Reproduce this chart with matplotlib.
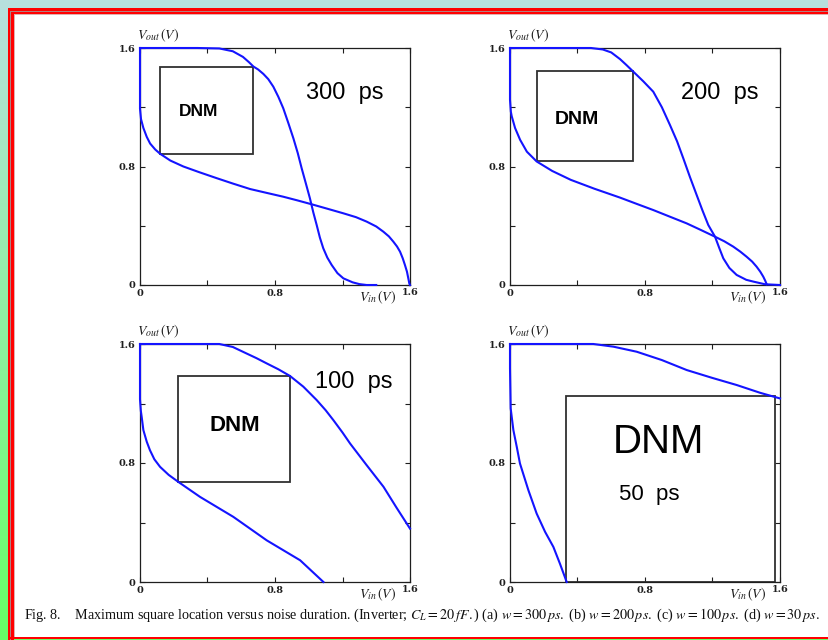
import numpy as np
import matplotlib
matplotlib.use("Agg")
import matplotlib.pyplot as plt
from matplotlib.patches import Rectangle

plt.rcParams['mathtext.fontset'] = 'stix'
plt.rcParams['font.family'] = ['Liberation Serif', 'DejaVu Serif']

# ---------------- data ----------------
panel_labels = ["300  ps", "200  ps", "100  ps", "50  ps"]

# panel (a) 300 ps
a_curve1_x = [0, 0.34, 0.47, 0.55, 0.61, 0.645, 0.672, 0.70, 0.731, 0.76, 0.79, 0.82, 0.849, 0.88, 0.909, 0.935, 0.958,
              0.983, 1.007, 1.027, 1.047, 1.066, 1.086, 1.11, 1.136, 1.17, 1.205, 1.26, 1.30, 1.343, 1.40]
a_curve1_y = [1.6, 1.6, 1.597, 1.578, 1.54, 1.505, 1.475, 1.455, 1.425, 1.39, 1.339, 1.27, 1.193, 1.09, 0.99, 0.89, 0.788,
              0.685, 0.585, 0.49, 0.405, 0.32, 0.248, 0.185, 0.135, 0.08, 0.045, 0.018, 0.006, 0.0, 0.0]
a_curve2_x = [0, 0, 0.006, 0.02, 0.04, 0.06, 0.09, 0.119, 0.18, 0.257, 0.35, 0.455, 0.55, 0.652, 0.75, 0.849, 0.93,
              1.017, 1.11, 1.205, 1.28, 1.343, 1.40, 1.442, 1.475, 1.501, 1.523, 1.541, 1.557, 1.57, 1.582, 1.59,
              1.596, 1.6]
a_curve2_y = [1.6, 1.19, 1.12, 1.06, 1.00, 0.955, 0.915, 0.886, 0.84, 0.80, 0.762, 0.721, 0.685, 0.648, 0.622, 0.596,
              0.572, 0.545, 0.515, 0.484, 0.458, 0.428, 0.395, 0.36, 0.328, 0.293, 0.26, 0.225, 0.18, 0.135, 0.09,
              0.045, 0.01, 0.0]
a_box = [0.118, 0.886, 0.672, 1.47]   # x0, y0, x1, y1

# panel (b) 200 ps
b_curve1_x = [0, 0.48, 0.55, 0.60, 0.652, 0.69, 0.731, 0.79, 0.849, 0.90, 0.948, 0.99, 1.027, 1.066, 1.106, 1.14,
              1.175, 1.215, 1.24, 1.264, 1.30, 1.343, 1.40, 1.442, 1.511, 1.6]
b_curve1_y = [1.6, 1.6, 1.59, 1.57, 1.525, 1.485, 1.44, 1.375, 1.305, 1.20, 1.08, 0.97, 0.855, 0.73, 0.608, 0.505,
              0.405, 0.326, 0.25, 0.18, 0.115, 0.068, 0.035, 0.023, 0.005, 0.0]
b_curve2_x = [0, 0, 0.005, 0.01, 0.03, 0.06, 0.1, 0.158, 0.25, 0.36, 0.5, 0.652, 0.75, 0.849, 0.95, 1.047, 1.13,
              1.215, 1.27, 1.323, 1.365, 1.402, 1.435, 1.461, 1.483, 1.501, 1.512, 1.521]
b_curve2_y = [1.6, 1.25, 1.17, 1.14, 1.06, 0.98, 0.9, 0.834, 0.77, 0.71, 0.65, 0.59, 0.548, 0.506, 0.46, 0.416, 0.372,
              0.326, 0.295, 0.259, 0.225, 0.191, 0.158, 0.124, 0.09, 0.056, 0.03, 0.005]
b_box = [0.158, 0.834, 0.731, 1.442]

# panel (c) 100 ps
c_curve1_x = [0, 0.47, 0.55, 0.63, 0.69, 0.75, 0.82, 0.889, 0.968, 1.047, 1.10, 1.146, 1.20, 1.245, 1.34, 1.443,
              1.52, 1.6]
c_curve1_y = [1.6, 1.6, 1.58, 1.537, 1.505, 1.47, 1.43, 1.385, 1.313, 1.223, 1.155, 1.088, 1.005, 0.931, 0.79, 0.64,
              0.50, 0.359]
c_curve2_x = [0, 0, 0.005, 0.01, 0.02, 0.04, 0.059, 0.085, 0.119, 0.17, 0.227, 0.356, 0.553, 0.751, 0.949, 1.087]
c_curve2_y = [1.6, 1.228, 1.15, 1.11, 1.021, 0.943, 0.886, 0.825, 0.774, 0.72, 0.673, 0.572, 0.438, 0.28, 0.146, 0.0]
c_box = [0.227, 0.673, 0.889, 1.385]

# panel (d) 50 ps
d_curve1_x = [0, 0.494, 0.613, 0.751, 0.9, 1.047, 1.196, 1.344, 1.482, 1.6]
d_curve1_y = [1.6, 1.6, 1.582, 1.548, 1.492, 1.425, 1.373, 1.324, 1.272, 1.234]
d_curve2_x = [0, 0, 0.004, 0.02, 0.04, 0.059, 0.109, 0.158, 0.208, 0.257, 0.296, 0.336]
d_curve2_y = [1.6, 1.436, 1.167, 1.021, 0.909, 0.797, 0.617, 0.46, 0.337, 0.236, 0.123, 0.0]
d_box = [0.332, 0.0, 1.57, 1.25]

tick_vals = [0, 0.4, 0.8, 1.2, 1.6]
tick_labels = ["0", "", "0.8", "", ""]
ytick_labels = ["0", "", "0.8", "", "1.6"]

caption = (r"Fig. 8.    Maximum square location versus noise duration. (Inverter; "
           r"$C_L=20\,fF.$) (a) $w=300\,ps.$ (b) $w=200\,ps.$ (c) $w=100\,ps.$ (d) $w=30\,ps.$")

# ---------------- figure ----------------
W, H = 829, 640
fig = plt.figure(figsize=(W / 100, H / 100), dpi=100)

# background frame (gradient + red double border)
bg = fig.add_axes([0, 0, 1, 1], zorder=-10)
bg.set_xlim(0, W)
bg.set_ylim(H, 0)
bg.axis('off')
top_c = np.array([184, 224, 222]) / 255
bot_c = np.array([102, 255, 102]) / 255
t = np.linspace(0, 1, 256)[:, None]
grad = (top_c[None, :] * (1 - t) + bot_c[None, :] * t)[:, None, :]
bg.imshow(grad, extent=[0, W, H, 0], aspect='auto', interpolation='bilinear')


def hrect(x0, y0, x1, y1, c):
    bg.add_patch(Rectangle((x0, y0), x1 - x0, y1 - y0, facecolor=c, edgecolor='none', lw=0))


red, grey = '#ff0000', '#b08080'
# white interior
hrect(15, 15, W, 636.5, 'white')
# left lines
hrect(8, 8, 10.5, H, red)
hrect(10.5, 10.5, 11.5, H, grey)
hrect(11.5, 11.5, 14, H, red)
hrect(14, 14, 15, 636.5, '#e0b0b0')
# top lines
hrect(8, 8, W, 10.5, red)
hrect(10.5, 10.5, W, 11.5, grey)
hrect(11.5, 11.5, W, 14, red)
hrect(14, 14, W, 15, '#e0b0b0')
# bottom line
hrect(8, 636.5, W, 639, red)

panels = [
    (a_curve1_x, a_curve1_y, a_curve2_x, a_curve2_y, a_box),
    (b_curve1_x, b_curve1_y, b_curve2_x, b_curve2_y, b_box),
    (c_curve1_x, c_curve1_y, c_curve2_x, c_curve2_y, c_box),
    (d_curve1_x, d_curve1_y, d_curve2_x, d_curve2_y, d_box),
]
# pixel rectangles for axes: left, top, right, bottom
pix = [(140, 48, 410, 285), (510, 48, 780, 285), (140, 344, 410, 582), (510, 344, 780, 582)]

blue = '#1414ff'
dark = '#1e1e1e'
tickfont = ['DejaVu Serif']
sans = ['Liberation Sans', 'DejaVu Sans']
for i, ((x1, y1, x2, y2, box), (l, tp, r, b)) in enumerate(zip(panels, pix)):
    ax = fig.add_axes([l / W, 1 - b / H, (r - l) / W, (b - tp) / H])
    ax.set_xlim(0, 1.6)
    ax.set_ylim(0, 1.6)
    ax.plot(x1, y1, color=blue, lw=1.5, solid_joinstyle='round', clip_on=False, zorder=3)
    ax.plot(x2, y2, color=blue, lw=1.5, solid_joinstyle='round', clip_on=False, zorder=3)
    bx0, by0, bx1, by1 = box
    ax.add_patch(Rectangle((bx0, by0), bx1 - bx0, by1 - by0, fill=False,
                           edgecolor='#303030', lw=1.3, zorder=2))
    ax.set_xticks(tick_vals)
    ax.set_xticklabels(tick_labels)
    ax.set_yticks(tick_vals)
    ax.set_yticklabels(ytick_labels)
    ax.tick_params(direction='in', length=3.5, width=0.8, top=True, right=True,
                   labelsize=7, pad=3, colors=dark)
    for lab in ax.get_xticklabels() + ax.get_yticklabels():
        lab.set_fontweight('bold')
        lab.set_family(tickfont)
    for s in ax.spines.values():
        s.set_linewidth(0.9)
        s.set_color(dark)
    ax.text(-0.01, 1.015, r"$V_{out}\,(V)$", transform=ax.transAxes, fontsize=10,
            ha='left', va='bottom', color=dark)
    ax.text(1.52, -0.022, r"$V_{in}\,(V)$", fontsize=10, ha='right', va='top',
            color=dark, clip_on=False)
    ax.text(1.6, -0.022, "1.6", fontsize=7, ha='center', va='top', color=dark,
            fontweight='bold', family=tickfont, clip_on=False)

    if i == 0:
        ax.text(1.215, 1.296, panel_labels[0], fontsize=17, ha='center', va='center', family=sans)
        ax.text(0.346, 1.17, "DNM", fontsize=12.5, fontweight='bold', ha='center', va='center', family=sans)
    elif i == 1:
        ax.text(1.245, 1.296, panel_labels[1], fontsize=17, ha='center', va='center', family=sans)
        ax.text(0.395, 1.12, "DNM", fontsize=14, fontweight='bold', ha='center', va='center', family=sans)
    elif i == 2:
        ax.text(1.265, 1.346, panel_labels[2], fontsize=17, ha='center', va='center', family=sans)
        ax.text(0.563, 1.055, "DNM", fontsize=16, fontweight='bold', ha='center', va='center', family=sans)
    else:
        ax.text(0.879, 0.943, "DNM", fontsize=29, ha='center', va='center', family=sans)
        ax.text(0.826, 0.59, panel_labels[3], fontsize=16, ha='center', va='center', family=sans)

fig.text(24 / W, 1 - 615 / H, caption, fontsize=10.2, ha='left', va='center', color='#111111')

fig.savefig("out.png", dpi=100)
